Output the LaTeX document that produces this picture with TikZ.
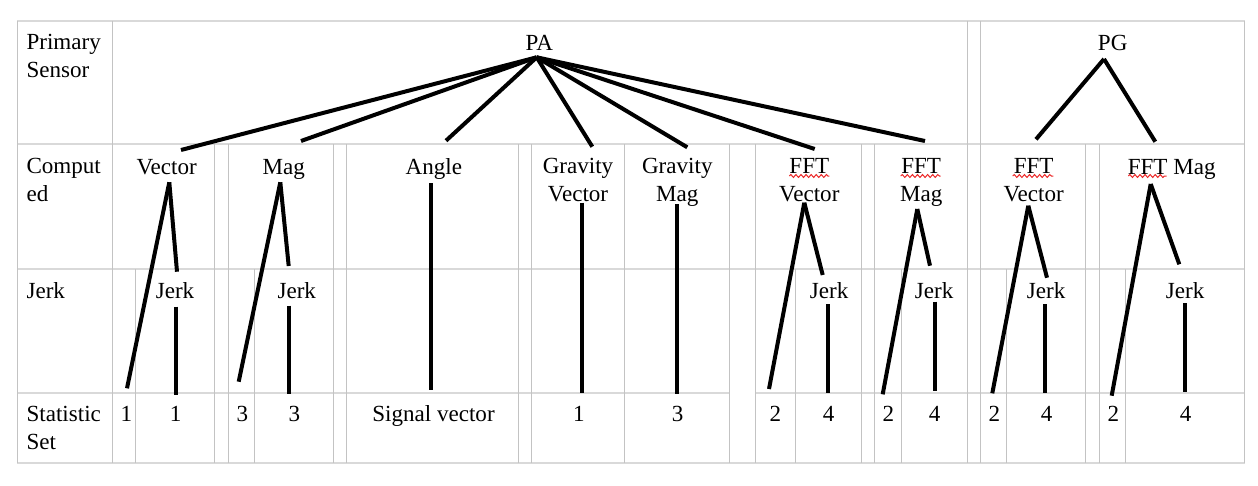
\documentclass[tikz,border=0pt]{standalone}
\usepackage{fontspec}
\setmainfont{Liberation Serif}
\usetikzlibrary{decorations.pathmorphing}
\definecolor{hgrid}{RGB}{217,217,217}
\definecolor{vgrid}{RGB}{195,195,195}
\definecolor{spellred}{RGB}{235,40,40}
\begin{document}
\begin{tikzpicture}[x=0.75pt,y=-0.75pt,
  txt/.style={font=\fontsize{17.3}{20.5}\selectfont, inner sep=0pt, anchor=base},
  lft/.style={txt, anchor=base west, align=left},
  ctr/.style={txt, align=center},
  hl/.style={draw=hgrid, line width=1.5pt},
  vl/.style={draw=vgrid, line width=0.75pt},
  link/.style={draw=black, line width=3pt},
  spell/.style={draw=spellred, line width=0.75pt, decorate, decoration={snake, amplitude=1.1pt, segment length=3.8pt}}]
\useasboundingbox (0,0) rectangle (1258,486);
% ---------- grid ----------
\foreach \y in {20.7,144.3,269.3,462.7} \draw[hl] (17.3,\y) -- (1244.7,\y);
\draw[hl] (17.3,393.3) -- (729.3,393.3);
\draw[hl] (755.3,393.3) -- (1244.7,393.3);
\foreach \x in {17.3,112.7,967.3,980.3,1244.7} \draw[vl] (\x,20.7) -- (\x,462.7);
\foreach \x in {214.3,228.3,333.3,346.7,518.3,531.3,624.3,729.3,755.3,861.7,874.3,1085.7,1099.3} \draw[vl] (\x,144.3) -- (\x,462.7);
\foreach \x in {135.3,254.3,795.3,901.3,1006.3,1125.3} \draw[vl] (\x,269.3) -- (\x,462.7);
% ---------- row headers (base = last line) ----------
\node[lft] (hPrim) at (26.3,77.3) {Primary\\Sensor};
\node[lft] (hComp) at (26.3,201.3) {Comput\\ed};
\node[lft] (hJerk) at (26.3,298.3) {Jerk};
\node[lft] (hStat) at (26.3,449) {Statistic\\Set};
% ---------- sensors ----------
\node[ctr] (PA) at (539.3,50) {PA};
\node[ctr] (PG) at (1112.7,50) {PG};
% ---------- computed ----------
\node[ctr] (cVec) at (166.7,174) {Vector};
\node[ctr] (cMag) at (283.7,174) {Mag};
\node[ctr] (cAng) at (433.8,174) {Angle};
\node[ctr] (cGV) at (578,201.3) {Gravity\\Vector};
\node[ctr] (cGM) at (677.3,201.3) {Gravity\\Mag};
\node[ctr] (cFV) at (809.3,201.3) {FFT\\Vector};
\node[ctr] (cFM) at (921.2,201.3) {FFT\\Mag};
\node[ctr] (gFV) at (1033.7,201.3) {FFT\\Vector};
\node[ctr] (gFM) at (1171.7,174) {FFT Mag};
% ---------- jerk ----------
\node[ctr] (jVec) at (175,298.3) {Jerk};
\node[ctr] (jMag) at (296.8,298.3) {Jerk};
\node[ctr] (jFV) at (829.2,298.3) {Jerk};
\node[ctr] (jFM) at (934.2,298.3) {Jerk};
\node[ctr] (jgFV) at (1046.2,298.3) {Jerk};
\node[ctr] (jgFM) at (1185.2,298.3) {Jerk};
% ---------- statistic set ----------
\node[ctr] (s1) at (126.3,421.7) {1};
\node[ctr] (s2) at (175.7,421.7) {1};
\node[ctr] (s3) at (242.3,421.7) {3};
\node[ctr] (s4) at (294.3,421.7) {3};
\node[ctr] (s5) at (433.5,421.7) {Signal vector};
\node[ctr] (s6) at (579,421.7) {1};
\node[ctr] (s7) at (677.7,421.7) {3};
\node[ctr] (s8) at (775.3,421.7) {2};
\node[ctr] (s9) at (828.7,421.7) {4};
\node[ctr] (s10) at (888.3,421.7) {2};
\node[ctr] (s11) at (934.7,421.7) {4};
\node[ctr] (s12) at (994.3,421.7) {2};
\node[ctr] (s13) at (1046.7,421.7) {4};
\node[ctr] (s14) at (1113.3,421.7) {2};
\node[ctr] (s15) at (1185.7,421.7) {4};
% ---------- spell-check underlines ----------
\draw[spell] (789.3,176) -- (829.3,176);
\draw[spell] (900.7,176) -- (940.7,176);
\draw[spell] (1012.7,176) -- (1053.3,176);
\draw[spell] (1128.3,176) -- (1166.7,176);
% ---------- connector end points ----------
\coordinate (PAo) at (536.7,57.3);
\coordinate (PGo) at (1104,59);
\coordinate (cVecI) at (181,150);
\coordinate (cMagI) at (301,141);
\coordinate (cAngI) at (446,140.7);
\coordinate (cGVI) at (592.3,146.7);
\coordinate (cGMI) at (687.3,147.3);
\coordinate (cFVI) at (814.7,149);
\coordinate (cFMI) at (925,141);
\coordinate (gFVI) at (1036,139.3);
\coordinate (gFMI) at (1155.3,141.7);
\coordinate (cVecO) at (169.3,182.3);
\coordinate (cMagO) at (280.3,182.3);
\coordinate (cAngO) at (431.3,183);
\coordinate (cGVO) at (581.7,202.7);
\coordinate (cGMO) at (677.3,204);
\coordinate (cFVO) at (804.3,202.7);
\coordinate (cFMO) at (917.3,209);
\coordinate (gFVO) at (1028.3,205.7);
\coordinate (gFMO) at (1150.7,184);
\coordinate (jVecI) at (177,271.7);
\coordinate (jMagI) at (288.7,266);
\coordinate (jFVI) at (822.7,275);
\coordinate (jFMI) at (930,265.7);
\coordinate (jgFVI) at (1047,277.7);
\coordinate (jgFMI) at (1179.3,264.3);
\coordinate (jVecO) at (176,306.7);
\coordinate (jMagO) at (289.3,305.7);
\coordinate (jFVO) at (828.3,304.3);
\coordinate (jFMO) at (935,301.7);
\coordinate (jgFVO) at (1045,304);
\coordinate (jgFMO) at (1185,303.3);
\coordinate (s1I) at (127,388.3);
\coordinate (s2I) at (176,395);
\coordinate (s3I) at (238.7,381.7);
\coordinate (s4I) at (289.3,394);
\coordinate (s5I) at (431.3,390);
\coordinate (s6I) at (581.7,392.7);
\coordinate (s7I) at (677.3,394);
\coordinate (s8I) at (769,389);
\coordinate (s9I) at (828.3,392.7);
\coordinate (s10I) at (882.7,394.3);
\coordinate (s11I) at (935,390.7);
\coordinate (s12I) at (992.3,393.3);
\coordinate (s13I) at (1045,392.7);
\coordinate (s14I) at (1111.7,395.7);
\coordinate (s15I) at (1185,391.7);
% ---------- connectors ----------
\foreach \t in {cVecI,cMagI,cAngI,cGVI,cGMI,cFVI,cFMI} \draw[link] (PAo) -- (\t);
\foreach \t in {gFVI,gFMI} \draw[link] (PGo) -- (\t);
\draw[link] (cVecO) -- (s1I);
\draw[link] (cVecO) -- (jVecI);
\draw[link] (jVecO) -- (s2I);
\draw[link] (cMagO) -- (s3I);
\draw[link] (cMagO) -- (jMagI);
\draw[link] (jMagO) -- (s4I);
\draw[link] (cAngO) -- (s5I);
\draw[link] (cGVO) -- (s6I);
\draw[link] (cGMO) -- (s7I);
\draw[link] (cFVO) -- (s8I);
\draw[link] (cFVO) -- (jFVI);
\draw[link] (jFVO) -- (s9I);
\draw[link] (cFMO) -- (s10I);
\draw[link] (cFMO) -- (jFMI);
\draw[link] (jFMO) -- (s11I);
\draw[link] (gFVO) -- (s12I);
\draw[link] (gFVO) -- (jgFVI);
\draw[link] (jgFVO) -- (s13I);
\draw[link] (gFMO) -- (s14I);
\draw[link] (gFMO) -- (jgFMI);
\draw[link] (jgFMO) -- (s15I);
\end{tikzpicture}
\end{document}
